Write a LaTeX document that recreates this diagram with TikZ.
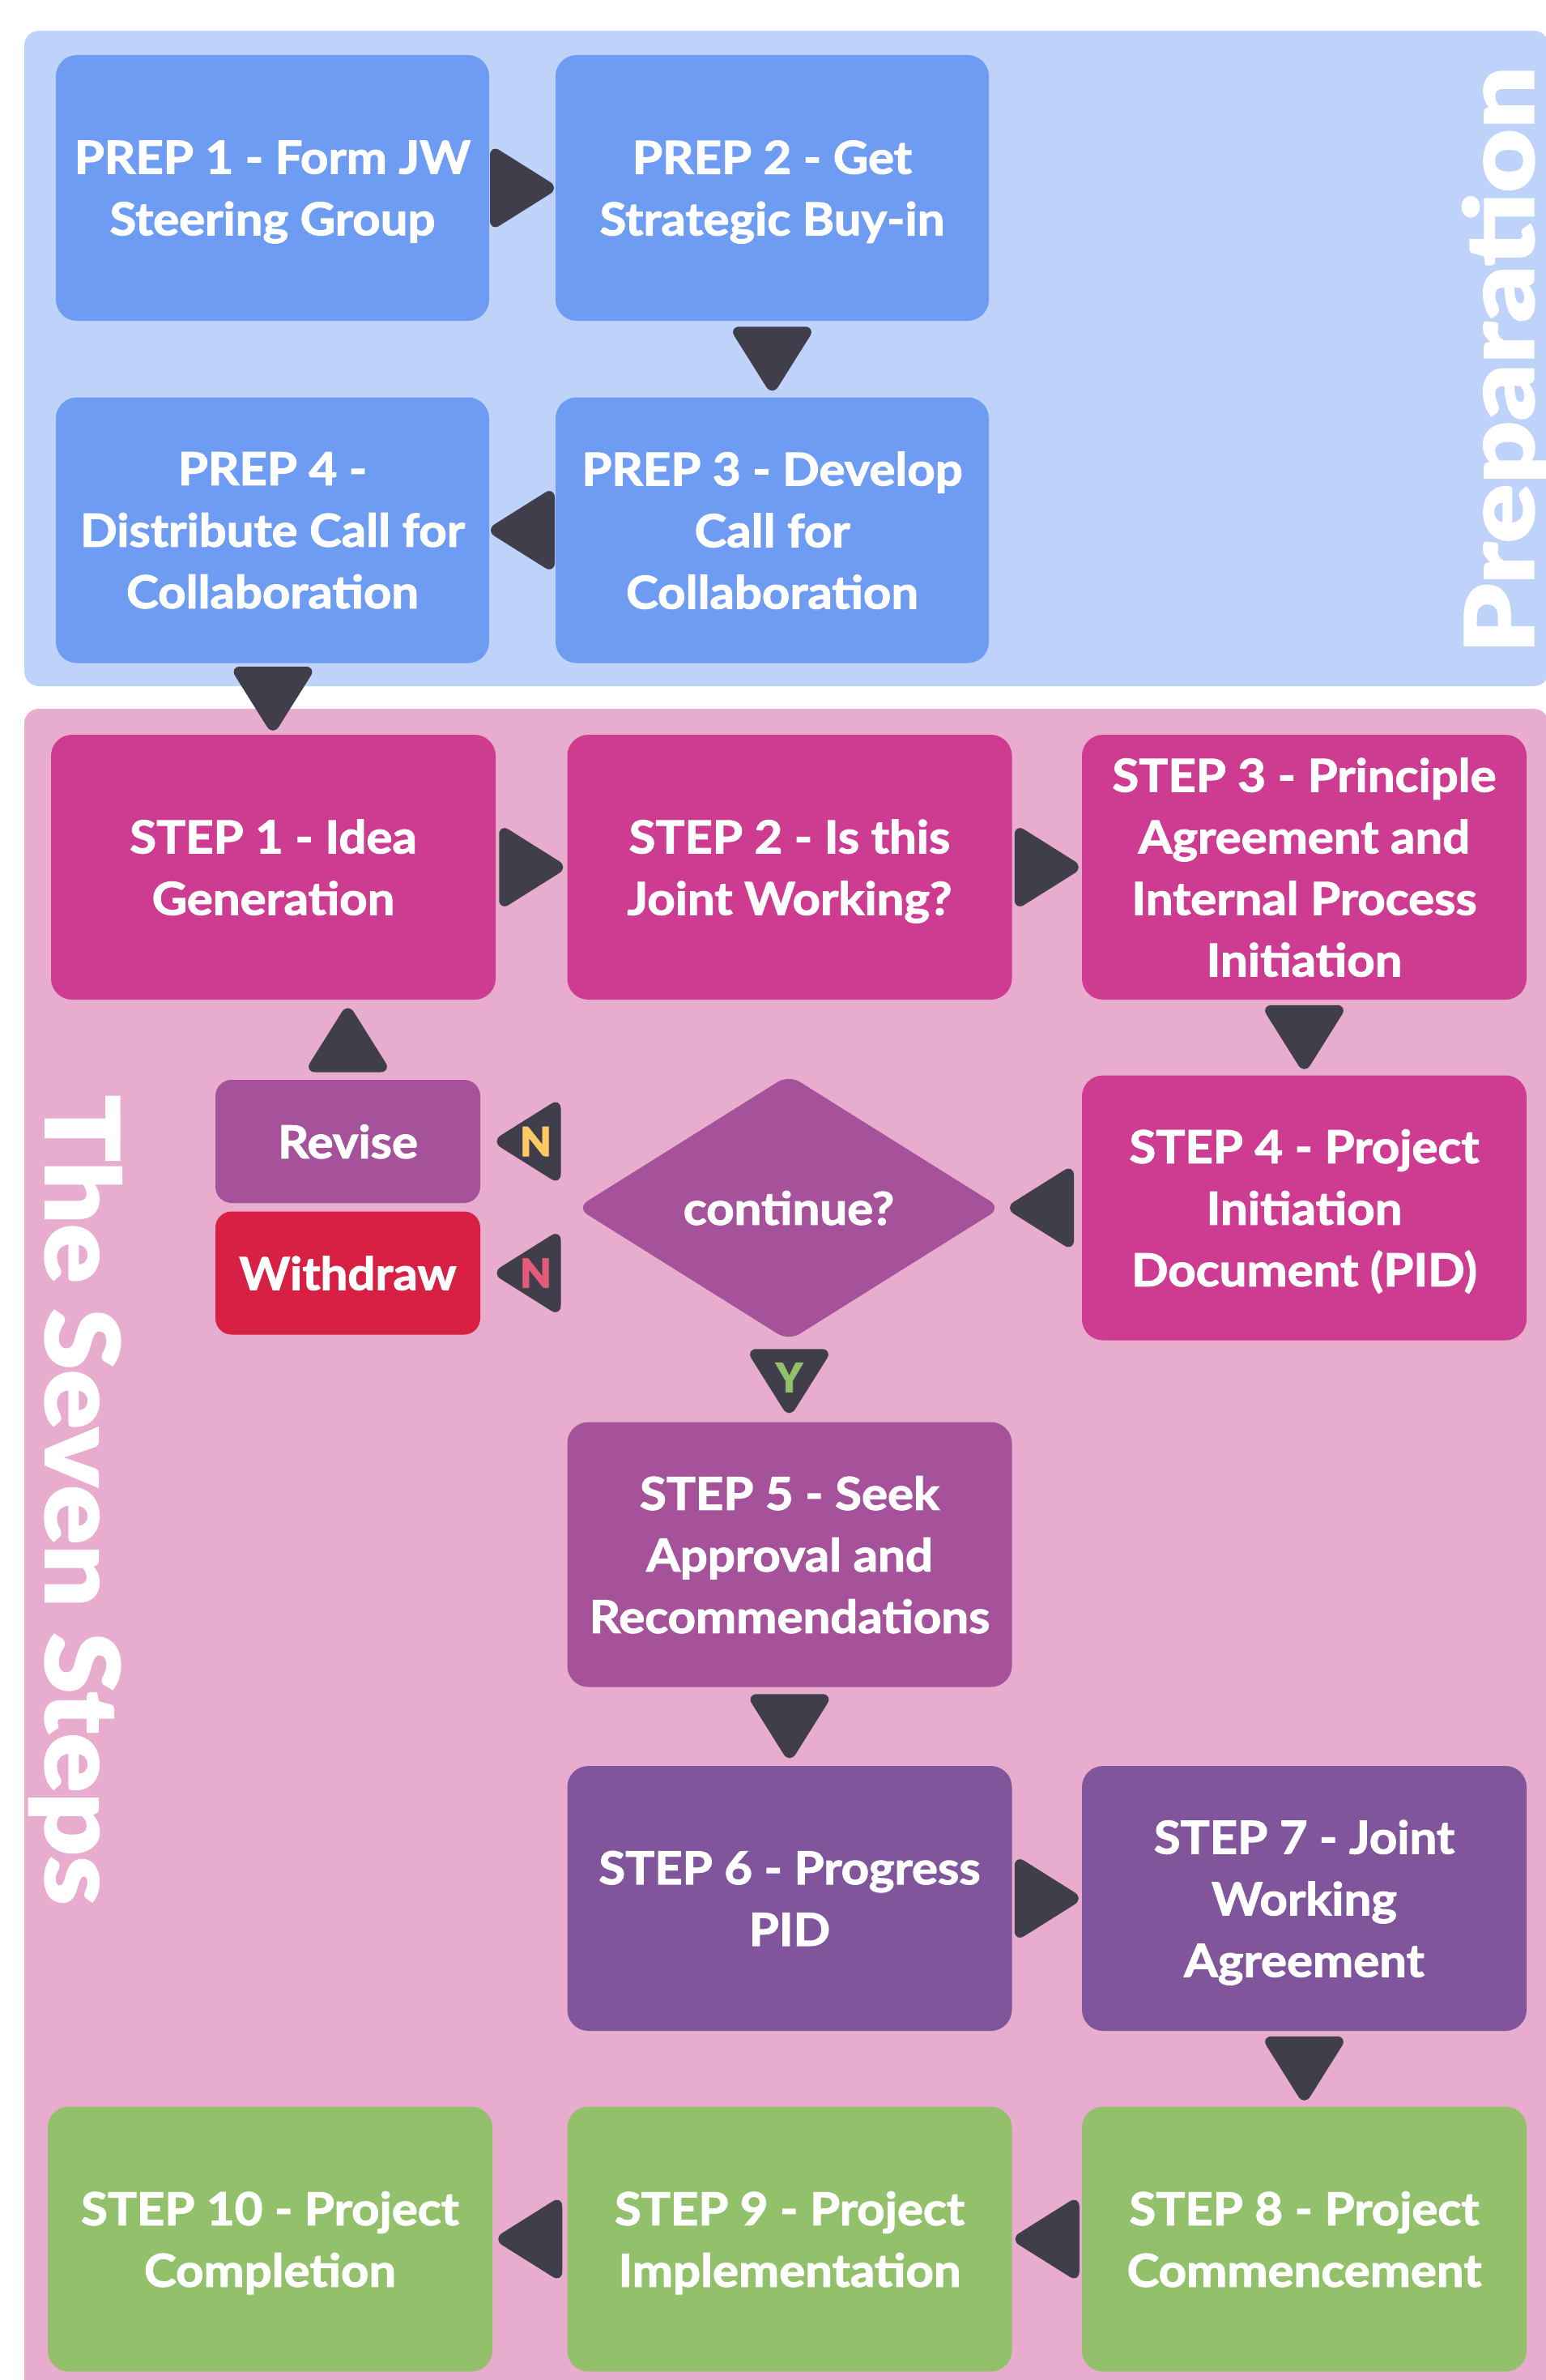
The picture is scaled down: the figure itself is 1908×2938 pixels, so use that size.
\documentclass[tikz,border=0pt]{standalone}
\usepackage{fontspec}
\setmainfont{Lato}[FakeStretch=1.07,FakeBold=2]
\newfontfamily\heavy{Lato Black}[FakeBold=1.2]
\usetikzlibrary{shapes.geometric,calc}
\definecolor{prepbg}{HTML}{BFD2F9}
\definecolor{prepbox}{HTML}{6E9CF2}
\definecolor{stepbg}{HTML}{E8ACCF}
\definecolor{magbox}{HTML}{CE3C91}
\definecolor{plumbox}{HTML}{A5529A}
\definecolor{redbox}{HTML}{D82044}
\definecolor{purbox}{HTML}{80559C}
\definecolor{grnbox}{HTML}{93C06A}
\definecolor{conncol}{HTML}{3F3E4A}
\definecolor{nyellow}{HTML}{FFC966}
\definecolor{npink}{HTML}{E35B7A}
\newcommand\arR[1]{\fill[conn] ([shift={(-40,-54)}]#1) -- ([shift={(46,0)}]#1) -- ([shift={(-40,54)}]#1) -- cycle;}
\newcommand\arL[1]{\fill[conn] ([shift={(40,-54)}]#1) -- ([shift={(-46,0)}]#1) -- ([shift={(40,54)}]#1) -- cycle;}
\newcommand\arD[1]{\fill[conn] ([shift={(-54,-40)}]#1) -- ([shift={(0,46)}]#1) -- ([shift={(54,-40)}]#1) -- cycle;}
\newcommand\arU[1]{\fill[conn] ([shift={(-54,40)}]#1) -- ([shift={(0,-46)}]#1) -- ([shift={(54,40)}]#1) -- cycle;}
\begin{document}
\begin{tikzpicture}[x=0.5pt,y=-0.5pt,
  conn/.style={fill=conncol, rounded corners=7pt},
  box/.style={rectangle, rounded corners=13pt, inner sep=0pt, outer sep=0pt, text=white, align=center,
    text depth=0pt, font=\fontsize{28pt}{38pt}\selectfont\bfseries},
  prepnode/.style={box, fill=prepbox, minimum width=267.5pt, minimum height=164pt},
  stepnode/.style={box, minimum width=274.5pt, minimum height=163.5pt},
  smallbox/.style={box, rounded corners=10pt, minimum width=163.5pt, minimum height=76pt},
  yn/.style={font=\heavy\fontsize{25pt}{25pt}\selectfont, inner sep=0pt},
  title/.style={inner sep=0pt, text=white}]
\useasboundingbox (0,0) rectangle (1908,2938);
% panels
\fill[prepbg, rounded corners=9pt] (30,38) rectangle (1912,847);
\fill[stepbg, rounded corners=9pt] (30,875) rectangle (1912,3000);
\node[title, rotate=90, xscale=1.15, anchor=base west, font=\heavy\fontsize{59pt}{59pt}\selectfont] (preptitle) at (1894,807) {Preparation};
\node[title, rotate=-90, xscale=1.08, anchor=base west, font=\heavy\fontsize{63pt}{63pt}\selectfont] (steptitle) at (56,1351) {The Seven Steps};
% preparation boxes
\node[prepnode] (p1) at (336.5,232) {PREP 1 - Form JW\\Steering Group};
\node[prepnode] (p2) at (953.5,232) {PREP 2 - Get\\Strategic Buy-in};
\node[prepnode] (p3) at (953.5,654.5) {PREP 3 - Develop\\Call for\\Collaboration};
\node[prepnode] (p4) at (336.5,654.5) {PREP 4 -\\Distribute Call for\\Collaboration};
% steps
\node[stepnode, fill=magbox] (s1) at (337.5,1070.5) {STEP 1 - Idea\\Generation};
\node[stepnode, fill=magbox] (s2) at (975,1070.5) {STEP 2 - Is this\\Joint Working?};
\node[stepnode, fill=magbox] (s3) at (1610.5,1070.5) {STEP 3 - Principle\\Agreement and\\Internal Process\\Initiation};
\node[stepnode, fill=magbox] (s4) at (1610.5,1491) {STEP 4 - Project\\Initiation\\Document (PID)};
\node[smallbox, fill=plumbox] (rev) at (429.5,1409) {Revise};
\node[smallbox, fill=redbox] (wd) at (429.5,1571.5) {Withdraw};
\node[diamond, fill=plumbox, rounded corners=8pt, inner sep=0pt, outer sep=0pt, minimum width=262pt, minimum height=164pt,
  text=white, text depth=0pt, font=\fontsize{28pt}{38pt}\selectfont\bfseries] (dia) at (974,1491) {continue?};
\node[stepnode, fill=plumbox] (s5) at (975,1919) {STEP 5 - Seek\\Approval and\\Recommendations};
\node[stepnode, fill=purbox] (s6) at (975,2343.5) {STEP 6 - Progress\\PID};
\node[stepnode, fill=purbox] (s7) at (1610.5,2343.5) {STEP 7 - Joint\\Working\\Agreement};
\node[stepnode, fill=grnbox] (s8) at (1610.5,2764) {STEP 8 - Project\\Commencement};
\node[stepnode, fill=grnbox] (s9) at (975,2764) {STEP 9 - Project\\Implementation};
\node[stepnode, fill=grnbox] (s10) at (333.5,2764) {STEP 10 - Project\\Completion};
% connectors
\path (p1.east) -- (p2.west) coordinate[pos=.5] (c1); \arR{c1}
\path (p2.south) -- (p3.north) coordinate[pos=.5] (c2); \arD{c2}
\path (p3.west) -- (p4.east) coordinate[pos=.5] (c3); \arL{c3}
\path (p4.south) -- (s1.north) coordinate[pos=.5] (c4); \arD{c4}
\path (s1.east) -- (s2.west) coordinate[pos=.5] (c5); \arR{c5}
\path (s2.east) -- (s3.west) coordinate[pos=.5] (c6); \arR{c6}
\path (s3.south) -- (s4.north) coordinate[pos=.5] (c7); \arD{c7}
\path (s4.west) -- (dia.east) coordinate[pos=.5] (c8); \arL{c8}
\path (rev.east -| dia.west) -- (rev.east) coordinate[pos=.5] (c9); \arL{c9}
\node[yn, text=nyellow] (n1) at ([shift={(9,0)}]c9) {N};
\path (wd.east -| dia.west) -- (wd.east) coordinate[pos=.5] (c10); \arL{c10}
\node[yn, text=npink] (n2) at ([shift={(9,0)}]c10) {N};
\path (rev.north) -- (rev.north |- s1.south) coordinate[pos=.5] (c11); \arU{c11}
\path (dia.south) -- (s5.north) coordinate[pos=.5] (c12); \arD{c12}
\node[yn, text=grnbox] (y1) at ([shift={(0,-5)}]c12) {Y};
\path (s5.south) -- (s6.north) coordinate[pos=.5] (c13); \arD{c13}
\path (s6.east) -- (s7.west) coordinate[pos=.5] (c14); \arR{c14}
\path (s7.south) -- (s8.north) coordinate[pos=.5] (c15); \arD{c15}
\path (s8.west) -- (s9.east) coordinate[pos=.5] (c16); \arL{c16}
\path (s9.west) -- (s10.east) coordinate[pos=.5] (c17); \arL{c17}
\end{tikzpicture}
\end{document}
